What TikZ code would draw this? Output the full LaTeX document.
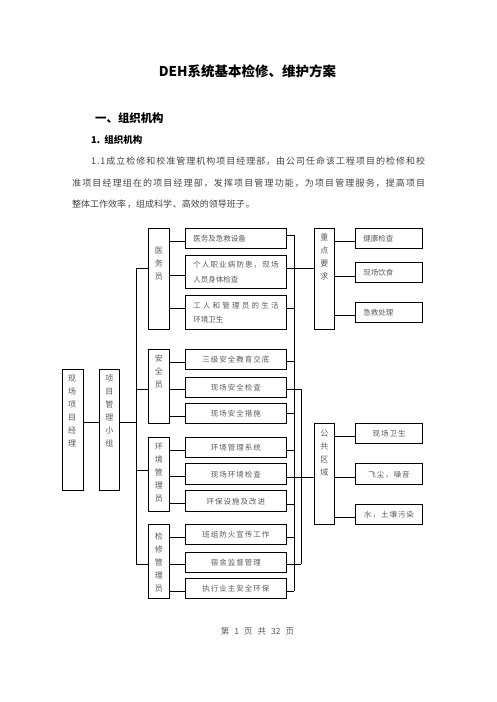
\documentclass[tikz,border=0pt]{standalone}
\usepackage{fontspec}
\setmainfont{Noto Sans CJK SC}
\newfontfamily\boxfont{Noto Sans CJK SC}[LetterSpace=13]
\newfontfamily\parafont{Noto Sans CJK SC}[LetterSpace=9.5]
\XeTeXlinebreaklocale "zh"
\XeTeXlinebreakskip=0pt plus 1pt
\definecolor{txt}{HTML}{5A5A5A}
\definecolor{paracol}{HTML}{454545}
\tikzset{
  frame/.style={draw, line width=1.1pt, rectangle, inner sep=0pt, anchor=north west},
  vlab/.style={anchor=north, inner sep=0pt, align=center, font=\fontsize{8}{13}\selectfont, text=txt},
  tbox/.style={frame, minimum width=100.7pt, font=\boxfont\fontsize{7.5}{14.3}\selectfont, text=txt, align=center},
  tboxl/.style={tbox, inner xsep=7.7pt, text width=85.3pt, align=justify},
  rbox/.style={frame, minimum width=66.4pt, minimum height=20pt, font=\boxfont\fontsize{7.5}{14.3}\selectfont, text=txt, align=center},
  rboxl/.style={rbox, inner xsep=7.4pt, text width=51.6pt, align=left},
  conn/.style={line width=1pt}
}
\begin{document}
\begin{tikzpicture}[x=1pt,y=-1pt]
\useasboundingbox (0,0) rectangle (496,702);
\fill[white] (0,0) rectangle (496,702);

% header texts
\node[font=\bfseries\fontsize{13.5}{16}\selectfont] (title) at (247.5,71.7) {DEH系统基本检修、维护方案};
\node[anchor=west, inner sep=0pt, font=\bfseries\fontsize{11.4}{14}\selectfont] (sec) at (95,118.3) {一、组织机构};
\node[anchor=west, inner sep=0pt, font=\bfseries\fontsize{9.5}{12}\selectfont] (sub) at (91,140) {1.\hspace{4pt}组织机构};
\node[anchor=north west, inner sep=0pt, text width=353pt, align=justify, font=\parafont\fontsize{9}{21.2}\selectfont, text=paracol] (para) at (72,157)
 {\hspace*{19pt}1.1成立检修和校准管理机构项目经理部，由公司任命该工程项目的检修和校\linebreak 准项目经理组在的项目经理部，发挥项目管理功能，为项目管理服务，提高项目\linebreak 整体工作效率，组成科学、高效的领导班子。};

% left column
\node[frame, minimum width=21pt, minimum height=120.7pt] (pm) at (61.7,369.3) {};
\node[vlab] (pml) at (72.2,375.3) {现\\场\\项\\目\\经\\理};
\node[frame, minimum width=20pt, minimum height=120.7pt] (grp) at (99.3,369.3) {};
\node[vlab] (grpl) at (109.3,375.3) {项\\目\\管\\理\\小\\组};

% roles
\node[frame, minimum width=21pt, minimum height=101pt] (yw) at (148.3,228.3) {};
\node[vlab] (ywl) at (158.8,246.7) {医\\务\\员};
\node[frame, minimum width=21pt, minimum height=74pt] (aq) at (148.3,349.3) {};
\node[vlab] (aql) at (158.8,354.3) {安\\全\\员};
\node[frame, minimum width=21pt, minimum height=74.3pt] (hj) at (148.3,436.7) {};
\node[vlab] (hjl) at (158.8,443.3) {环\\境\\管\\理\\员};
\node[frame, minimum width=21pt, minimum height=74pt] (jx) at (148.3,524.3) {};
\node[vlab] (jxl) at (158.8,532.7) {检\\修\\管\\理\\员};

% tasks
\node[tboxl, minimum height=20pt] (t1) at (185,228.3) {医务及急救设备};
\node[tboxl, minimum height=33.3pt] (t2) at (185,255) {个人职业病防患，现场\linebreak 人员身体检查};
\node[tboxl, minimum height=34.3pt] (t3) at (185,295) {工人和管理员的生活\linebreak 环境卫生};
\node[tbox, minimum height=20pt] (t4) at (185,349.3) {三级安全教育交底};
\node[tbox, minimum height=20pt] (t5) at (185,376.7) {现场安全检查};
\node[tbox, minimum height=20pt] (t6) at (185,403.3) {现场安全措施};
\node[tbox, minimum height=20.6pt] (t7) at (185,436.7) {环境管理系统};
\node[tbox, minimum height=21pt] (t8) at (185,463.3) {现场环境检查};
\node[tbox, minimum height=20.7pt] (t9) at (185,490.3) {环保设施及改进};
\node[tbox, minimum height=20pt] (t10) at (185,524.3) {班组防火宣传工作};
\node[tbox, minimum height=20pt] (t11) at (185,551.7) {宿舍监督管理};
\node[tbox, minimum height=20pt] (t12) at (185,578.3) {执行业主安全环保};

% right groups
\node[frame, minimum width=20pt, minimum height=101pt] (zd) at (314.3,228.3) {};
\node[vlab] (zdl) at (324.3,233.7) {重\\点\\要\\求};
\node[frame, minimum width=20pt, minimum height=101pt] (gg) at (314.3,423.3) {};
\node[vlab] (ggl) at (324.3,429.3) {公\\共\\区\\域};

\node[rboxl] (r1) at (355.3,228.3) {健康检查};
\node[rboxl] (r2) at (355.3,261.7) {现场饮食};
\node[rboxl] (r3) at (355.3,302.3) {急救处理};
\node[rbox] (r4) at (355.3,423.3) {现场卫生};
\node[rbox, minimum height=21pt] (r5) at (355.3,463.3) {飞尘，噪音};
\node[rbox] (r6) at (355.3,504.3) {水，土壤污染};

% footer
\node[font=\fontsize{8.5}{10}\selectfont, text=txt] (foot) at (257.5,631.7) {第\hspace{5pt}1\hspace{5pt}页\hspace{5pt}共\hspace{5pt}32\hspace{5pt}页};

% connectors left
\coordinate (lbtop) at (136.7,268.3);
\coordinate (lbbot) at (136.7,564);
\draw[conn] (pm.east |- 0,422.7) -- (grp.west |- 0,422.7);
\draw[conn] (grp.east |- 0,422.7) -- (lbtop |- 0,422.7);
\draw[conn] (yw.west |- lbtop) -- (lbtop) -- (lbbot) -- (jx.west |- lbbot);
\draw[conn] (lbtop |- 0,389.3) -- (aq.west |- 0,389.3);
\draw[conn] (lbtop |- 0,470.7) -- (hj.west |- 0,470.7);

\draw[conn] (yw.east |- 0,241) -- (t1.west |- 0,241);
\draw[conn] (yw.east |- 0,275) -- (t2.west |- 0,275);
\draw[conn] (yw.east |- 0,308.3) -- (t3.west |- 0,308.3);
\draw[conn] (aq.east |- 0,362.7) -- (t4.west |- 0,362.7);
\draw[conn] (aq.east |- 0,389.3) -- (t5.west |- 0,389.3);
\draw[conn] (aq.east |- 0,416) -- (t6.west |- 0,416);
\draw[conn] (hj.east |- 0,450) -- (t7.west |- 0,450);
\draw[conn] (hj.east |- 0,476) -- (t8.west |- 0,476);
\draw[conn] (hj.east |- 0,503.3) -- (t9.west |- 0,503.3);
\draw[conn] (jx.east |- 0,537.3) -- (t10.west |- 0,537.3);
\draw[conn] (jx.east |- 0,564) -- (t11.west |- 0,564);
\draw[conn] (jx.east |- 0,591.7) -- (t12.west |- 0,591.7);

% right buses
\coordinate (b1top) at (294,235);
\coordinate (b1bot) at (294,591);
\coordinate (b2top) at (301,389.3);
\coordinate (b2bot) at (301,564);
\draw[conn] (b1top) -- (b1bot);
\draw[conn] (b2top) -- (b2bot);
\draw[conn] (t1.east |- b1top) -- (b1top);
\draw[conn] (t2.east |- 0,268.3) -- (zd.west |- 0,268.3);
\draw[conn] (t3.east |- 0,308.3) -- (b1top |- 0,308.3);
\draw[conn] (t4.east |- 0,361.7) -- (b1top |- 0,361.7);
\draw[conn] (t5.east |- b2top) -- (b2top);
\draw[conn] (t6.east |- 0,413) -- (b1top |- 0,413);
\draw[conn] (t7.east |- 0,450) -- (b1top |- 0,450);
\draw[conn] (t8.east |- 0,477) -- (gg.west |- 0,477);
\draw[conn] (t9.east |- 0,504) -- (b1top |- 0,504);
\draw[conn] (t10.east |- 0,537) -- (b1top |- 0,537);
\draw[conn] (t11.east |- b2bot) -- (b2bot);
\draw[conn] (t12.east |- b1bot) -- (b1bot);

\draw[conn] (zd.east |- 0,241.7) -- (r1.west |- 0,241.7);
\draw[conn] (zd.east |- 0,276) -- (r2.west |- 0,276);
\draw[conn] (zd.east |- 0,315.7) -- (r3.west |- 0,315.7);
\draw[conn] (gg.east |- 0,436) -- (r4.west |- 0,436);
\draw[conn] (gg.east |- 0,477.3) -- (r5.west |- 0,477.3);
\draw[conn] (gg.east |- 0,517.3) -- (r6.west |- 0,517.3);
\end{tikzpicture}
\end{document}
